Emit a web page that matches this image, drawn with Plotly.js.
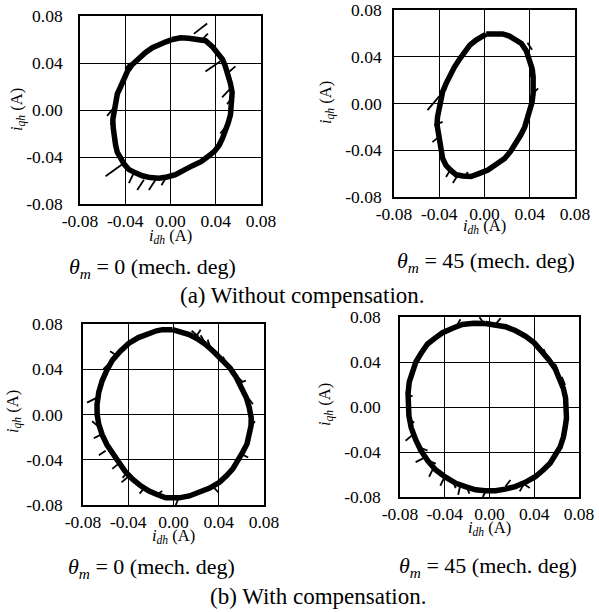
<!DOCTYPE html>
<html>
<head>
<meta charset="utf-8">
<script src="https://cdn.plot.ly/plotly-3.0.1.min.js"></script>
<style>
  html, body { margin: 0; padding: 0; background: #fff; }
  #chart { width: 599px; height: 612px; }
</style>
</head>
<body>
<div id="chart"></div>
<script>
// Axis ticks shared by all four current-locus panels
const tickVals = [-0.08, -0.04, 0.00, 0.04, 0.08];
const tickText = ["-0.08", "-0.04", "0.00", "0.04", "0.08"];

// (a) without compensation, theta_m = 0 : measured locus (i_dh, i_qh) in A
const a0_id = [0.0015, 0.009, 0.016, 0.024, 0.031, 0.037, 0.041, 0.046, 0.0485, 0.051, 0.053, 0.0545, 0.054, 0.0535, 0.053, 0.051, 0.0485, 0.046, 0.043, 0.039, 0.034, 0.027, 0.019, 0.012, 0.0044, -0.003, -0.0103, -0.018, -0.025, -0.031, -0.037, -0.041, -0.044, -0.047, -0.0485, -0.050, -0.0506, -0.051, -0.050, -0.0485, -0.047, -0.044, -0.041, -0.038, -0.034, -0.028, -0.022, -0.016, -0.0103, -0.004, 0.0015];
const a0_iq = [0.060, 0.0615, 0.061, 0.0605, 0.059, 0.054, 0.049, 0.043, 0.037, 0.030, 0.0225, 0.015, 0.008, 0.002, -0.004, -0.011, -0.0185, -0.024, -0.030, -0.035, -0.039, -0.044, -0.0476, -0.051, -0.055, -0.057, -0.058, -0.0575, -0.056, -0.0535, -0.0505, -0.046, -0.042, -0.036, -0.030, -0.023, -0.0155, -0.008, -0.001, 0.006, 0.0137, 0.020, 0.027, 0.033, 0.0385, 0.044, 0.049, 0.053, 0.056, 0.058, 0.060];
const a0_spk_id = [0.0206, 0.0324, null, 0.0309, 0.0441, null, 0.0485, 0.0574, null, 0.0456, 0.0529, null, -0.0574, -0.0426, null, -0.0529, -0.0485, null, -0.0294, -0.0235, null, -0.0191, -0.0132, null, -0.0368, -0.0324, null, -0.0400, -0.0360, null, -0.0560, -0.0500, null, 0.0500, 0.0560, null, 0.0440, 0.0490, null, 0.0280, 0.0330, null, -0.0080, -0.0030];
const a0_spk_iq = [0.0648, 0.0736, null, 0.0327, 0.0415, null, 0.0298, 0.0371, null, 0.0108, 0.0181, null, -0.0563, -0.0461, null, -0.0126, -0.0009, null, -0.0680, -0.0593, null, -0.0680, -0.0593, null, -0.0622, -0.0534, null, 0.0350, 0.0400, null, -0.0050, 0.0020, null, 0.0050, 0.0120, null, -0.0200, -0.0140, null, 0.0600, 0.0650, null, -0.0640, -0.0560];

// (a) without compensation, theta_m = 45
const a45_id = [0.0015, 0.0089, 0.016, 0.022, 0.0326, 0.037, 0.040, 0.042, 0.043, 0.0435, 0.043, 0.042, 0.040, 0.038, 0.0356, 0.032, 0.028, 0.023, 0.0178, 0.011, 0.003, -0.005, -0.0119, -0.019, -0.025, -0.030, -0.034, -0.037, -0.0385, -0.040, -0.0415, -0.042, -0.0415, -0.040, -0.039, -0.037, -0.034, -0.031, -0.0267, -0.022, -0.0178, -0.013, -0.0074, -0.003, 0.0015];
const a45_iq = [0.0594, 0.060, 0.0595, 0.0577, 0.0514, 0.045, 0.037, 0.030, 0.0229, 0.016, 0.0086, 0.001, -0.0057, -0.013, -0.020, -0.027, -0.0343, -0.041, -0.047, -0.052, -0.057, -0.060, -0.0625, -0.062, -0.061, -0.057, -0.053, -0.047, -0.040, -0.033, -0.0257, -0.018, -0.0114, -0.004, 0.0029, 0.010, 0.017, 0.024, 0.031, 0.038, 0.0443, 0.050, 0.0543, 0.057, 0.0594];
const a45_spk_id = [-0.0504, -0.034, null, -0.034, -0.0296, null, -0.0178, -0.0148, null, -0.0444, -0.037, null, 0.0444, 0.040, null, 0.0474, 0.043, null, 0.038, 0.042, null, -0.0280, -0.0240, null, -0.0460, -0.0410, null, 0.0200, 0.0250];
const a45_spk_iq = [-0.0057, 0.0129, null, -0.0629, -0.0557, null, -0.0643, -0.0586, null, -0.0186, -0.0157, null, 0.0286, 0.0229, null, 0.0129, 0.0086, null, 0.052, 0.046, null, -0.0680, -0.0620, null, -0.0330, -0.0290, null, 0.0600, 0.0560];

// (b) with compensation, theta_m = 0
const b0_id = [-0.0009, 0.007, 0.0139, 0.021, 0.0287, 0.036, 0.0436, 0.050, 0.0554, 0.060, 0.0643, 0.067, 0.0687, 0.0685, 0.0673, 0.065, 0.0613, 0.057, 0.0524, 0.047, 0.0406, 0.032, 0.0228, 0.014, 0.005, -0.001, -0.0068, -0.014, -0.0216, -0.029, -0.0364, -0.043, -0.0483, -0.054, -0.0587, -0.063, -0.066, -0.0675, -0.0676, -0.066, -0.063, -0.059, -0.054, -0.047, -0.0394, -0.031, -0.0216, -0.015, -0.0098, -0.0009];
const b0_iq = [0.075, 0.073, 0.0707, 0.067, 0.0617, 0.055, 0.048, 0.041, 0.033, 0.024, 0.015, 0.006, -0.003, -0.010, -0.018, -0.026, -0.033, -0.041, -0.048, -0.054, -0.060, -0.065, -0.069, -0.072, -0.0737, -0.074, -0.0737, -0.071, -0.0677, -0.063, -0.057, -0.050, -0.042, -0.035, -0.027, -0.018, -0.009, 0.000, 0.009, 0.020, 0.030, 0.039, 0.048, 0.056, 0.063, 0.068, 0.072, 0.074, 0.075, 0.075];
const b0_spk_id = [-0.0764, -0.0646, null, 0.0302, 0.0332, null, 0.0436, 0.048, null, 0.0554, 0.0613, null, 0.0658, 0.0702, null, 0.0720, 0.0676, null, -0.0542, -0.0468, null, -0.072, -0.0646, null, -0.0705, -0.0616, null, -0.016, -0.010, null, 0.002, 0.005, null, -0.045, -0.040, null, 0.016, 0.022, null, 0.0240, 0.0280, null, -0.0300, -0.0250, null, -0.0620, -0.0570, null, 0.020, 0.024, null, 0.058, 0.064, null, -0.060, -0.066, null, -0.040, -0.046, null, 0.035, 0.040, null, 0.060, 0.066, null, -0.050, -0.056];
const b0_spk_iq = [0.0105, 0.0165, null, 0.0662, 0.0571, null, 0.0511, 0.0436, null, 0.0346, 0.0286, null, 0.015, 0.009, null, -0.006, -0.012, null, -0.0481, -0.0421, null, -0.006, -0.012, null, -0.021, -0.0165, null, -0.0720, -0.0675, null, -0.0800, -0.0725, null, -0.0560, -0.0500, null, 0.0740, 0.0690, null, 0.0700, 0.0630, null, -0.0700, -0.0640, null, 0.0400, 0.0450, null, 0.069, 0.075, null, 0.028, 0.030, null, -0.032, -0.036, null, -0.055, -0.060, null, -0.064, -0.069, null, -0.035, -0.038, null, 0.052, 0.056];

// (b) with compensation, theta_m = 45
const b45_id = [-0.0036, 0.005, 0.0142, 0.023, 0.032, 0.040, 0.0468, 0.053, 0.0587, 0.063, 0.066, 0.068, 0.069, 0.0688, 0.0676, 0.066, 0.063, 0.059, 0.0542, 0.048, 0.0409, 0.032, 0.023, 0.014, 0.0053, -0.004, -0.0124, -0.021, -0.030, -0.040, -0.048, -0.055, -0.0613, -0.066, -0.070, -0.072, -0.073, -0.0728, -0.0717, -0.069, -0.0658, -0.061, -0.0554, -0.049, -0.042, -0.033, -0.0243, -0.014, -0.0036];
const b45_iq = [0.0742, 0.073, 0.0713, 0.068, 0.063, 0.057, 0.050, 0.042, 0.034, 0.025, 0.0166, 0.008, -0.0009, -0.010, -0.0183, -0.027, -0.0358, -0.043, -0.050, -0.056, -0.062, -0.067, -0.0707, -0.073, -0.0745, -0.0745, -0.0736, -0.071, -0.0678, -0.062, -0.056, -0.048, -0.0387, -0.029, -0.0183, -0.008, 0.002, 0.012, 0.0224, 0.031, 0.040, 0.048, 0.056, 0.061, 0.066, 0.070, 0.0733, 0.0745, 0.0742];
const b45_spk_id = [0.0142, 0.0216, null, 0.0261, 0.0305, null, 0.0379, 0.0409, null, 0.0483, 0.0513, null, 0.0587, 0.0616, null, 0.0646, 0.0676, null, -0.0747, -0.0687, null, -0.0732, -0.0673, null, -0.0628, -0.0554, null, -0.0554, -0.048, null, -0.045, -0.0391, null, -0.0332, -0.0302, null, -0.0210, -0.0180, null, 0.0142, 0.0187, null, 0.0270, 0.0310, null, -0.0090, -0.0050, null, -0.069, -0.075, null, -0.058, -0.066, null, -0.050, -0.054, null, -0.040, -0.044, null, -0.026, -0.028, null, -0.003, -0.006, null, 0.030, 0.036, null, -0.030, -0.026, null, 0.005, 0.010];
const b45_spk_iq = [0.0733, 0.069, null, 0.0675, 0.0617, null, 0.0602, 0.0529, null, 0.0515, 0.0442, null, 0.0384, 0.0311, null, 0.0268, 0.0195, null, 0.0122, 0.0093, null, -0.0096, -0.014, null, -0.0358, -0.0387, null, -0.0474, -0.0503, null, -0.0561, -0.062, null, -0.0649, -0.0721, null, -0.0690, -0.0770, null, -0.0707, -0.0649, null, -0.0750, -0.0680, null, 0.0800, 0.0740, null, -0.025, -0.030, null, -0.045, -0.049, null, -0.054, -0.062, null, -0.062, -0.070, null, -0.069, -0.078, null, -0.074, -0.080, null, -0.068, -0.072, null, 0.071, 0.078, null, 0.073, 0.079];

// box = [left, right, top, bottom] px; sub = angle-label centre; yt = y-title centre;
// xs / ys = tick-label standoffs; xt = x-title offset below the box
const panels = [
  { id: a0_id,  iq: a0_iq,  sid: a0_spk_id,  siq: a0_spk_iq,  box: [80, 261, 16, 204],  sub: [152, 268], yt: [17, 110],  xs: 0, ys: 12, xt: 32, ang: "0" },
  { id: a45_id, iq: a45_iq, sid: a45_spk_id, siq: a45_spk_iq, box: [394, 575, 10, 197], sub: [486, 262], yt: [326, 103], xs: 0, ys: 7,  xt: 29, ang: "45" },
  { id: b0_id,  iq: b0_iq,  sid: b0_spk_id,  siq: b0_spk_iq,  box: [83, 264, 324, 505], sub: [151, 568], yt: [13, 412],  xs: 0, ys: 15, xt: 31, ang: "0" },
  { id: b45_id, iq: b45_iq, sid: b45_spk_id, siq: b45_spk_iq, box: [400, 579, 317, 497], sub: [488, 567], yt: [325, 405], xs: 0, ys: 14, xt: 31, ang: "45" }
];

const W = 599, H = 612;
const FONT = "'Liberation Serif', 'Times New Roman', Times, serif";
const px = x => x / W;
const py = y => 1 - y / H;

const traces = [];
const layout = {
  width: W, height: H,
  margin: { l: 0, r: 0, t: 0, b: 0 },
  paper_bgcolor: "#fff", plot_bgcolor: "#fff",
  showlegend: false,
  font: { family: FONT, color: "#000", size: 16 },
  annotations: []
};

panels.forEach((p, k) => {
  const n = k === 0 ? "" : String(k + 1);
  const xa = "x" + n, ya = "y" + n;
  traces.push({
    x: p.id, y: p.iq, xaxis: xa, yaxis: ya, type: "scatter", mode: "lines",
    line: { color: "#000", width: 5.5 }, hoverinfo: "skip"
  });
  traces.push({
    x: p.sid, y: p.siq, xaxis: xa, yaxis: ya, type: "scatter", mode: "lines",
    line: { color: "#000", width: 1.8 }, connectgaps: false, hoverinfo: "skip"
  });
  const [l, r, t, b] = p.box;
  const common = {
    range: [-0.08, 0.08], tickvals: tickVals, ticktext: tickText,
    showgrid: true, gridcolor: "#000", gridwidth: 1,
    zeroline: false, showline: true, mirror: true, linecolor: "#000", linewidth: 1.8,
    ticks: "", tickfont: { family: FONT, size: 17.5, color: "#000" }, fixedrange: true
  };
  layout["xaxis" + n] = Object.assign({}, common, {
    domain: [px(l), px(r)], anchor: ya, ticklabelstandoff: p.xs
  });
  layout["yaxis" + n] = Object.assign({}, common, {
    domain: [py(b), py(t)], anchor: xa, ticklabelstandoff: p.ys
  });
  // axis titles
  layout.annotations.push({
    xref: "paper", yref: "paper", x: px((l + r) / 2), y: py(b + p.xt),
    text: "<i>i</i><sub><i>dh</i></sub> (A)", showarrow: false,
    font: { family: FONT, size: 16.5 }, xanchor: "center", yanchor: "middle"
  });
  layout.annotations.push({
    xref: "paper", yref: "paper", x: px(p.yt[0]), y: py(p.yt[1]),
    text: "<i>i</i><sub><i>qh</i></sub> (A)", showarrow: false, textangle: -90,
    font: { family: FONT, size: 16.5 }, xanchor: "center", yanchor: "middle"
  });
  // angle label beneath each panel
  layout.annotations.push({
    xref: "paper", yref: "paper", x: px(p.sub[0]), y: py(p.sub[1]),
    text: "<i>θ</i><sub><i>m</i></sub> = " + p.ang + " (mech. deg)",
    showarrow: false, font: { family: FONT, size: 22 }, xanchor: "center", yanchor: "middle"
  });
});

layout.annotations.push({
  xref: "paper", yref: "paper", x: px(302), y: py(295),
  text: "(a) Without compensation.", showarrow: false,
  font: { family: FONT, size: 23 }, xanchor: "center", yanchor: "middle"
});
layout.annotations.push({
  xref: "paper", yref: "paper", x: px(318), y: py(596),
  text: "(b) With compensation.", showarrow: false,
  font: { family: FONT, size: 23 }, xanchor: "center", yanchor: "middle"
});

Plotly.newPlot("chart", traces, layout, { staticPlot: true, displayModeBar: false });
</script>
</body>
</html>
